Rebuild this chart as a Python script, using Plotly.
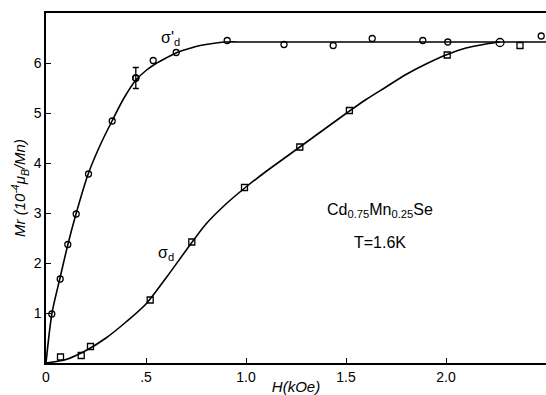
import plotly.graph_objects as go

# sigma'_d data (open circles)
circ_H = [0.029, 0.071, 0.109, 0.151, 0.2125, 0.331, 0.449, 0.536, 0.651, 0.906,
          1.19, 1.436, 1.631, 1.884, 2.009, 2.476]
circ_M = [0.98, 1.68, 2.37, 2.98, 3.78, 4.84, 5.70, 6.05, 6.21, 6.45,
          6.37, 6.35, 6.49, 6.45, 6.42, 6.54]

# the one point carrying an error bar
err_H = [0.449]
err_M = [5.70]
err_size = [0.21]

# shared point where both curves meet
shared_H = [2.27]
shared_M = [6.41]

# sigma_d data (open squares)
sq_H = [0.0725, 0.176, 0.2225, 0.521, 0.729, 0.9925, 1.269, 1.517, 2.006, 2.37]
sq_M = [0.12, 0.15, 0.33, 1.26, 2.42, 3.51, 4.32, 5.05, 6.16, 6.35]

# smooth curves
curve1_H = [0, 0.03, 0.07, 0.11, 0.15, 0.21, 0.27, 0.33, 0.39, 0.45, 0.5, 0.55,
            0.6, 0.65, 0.7, 0.75, 0.8, 0.85, 0.9, 1.0, 1.5, 2.0, 2.5]
curve1_M = [0, 1.0, 1.7, 2.38, 2.98, 3.77, 4.35, 4.84, 5.3, 5.66, 5.85, 5.99,
            6.1, 6.2, 6.27, 6.33, 6.37, 6.4, 6.42, 6.42, 6.42, 6.42, 6.42]

curve2_H = [0, 0.1, 0.2, 0.3, 0.4, 0.5, 0.6, 0.7, 0.8, 0.9, 1.0, 1.1, 1.2, 1.3,
            1.4, 1.5, 1.6, 1.7, 1.8, 1.9, 2.0, 2.1, 2.2, 2.27]
curve2_M = [0, 0.07, 0.25, 0.5, 0.82, 1.18, 1.7, 2.25, 2.78, 3.18, 3.52, 3.83,
            4.12, 4.41, 4.7, 4.99, 5.27, 5.52, 5.77, 5.98, 6.16, 6.3, 6.38, 6.42]

x_ticks = [0, 0.5, 1.0, 1.5, 2.0]
x_ticklabels = ["0", ".5", "1.0", "1.5", "2.0"]
y_ticks = [1, 2, 3, 4, 5, 6]
y_ticklabels = ["1", "2", "3", "4", "5", "6"]

fig = go.Figure()
fig.add_trace(go.Scatter(x=curve1_H, y=curve1_M, mode="lines",
                         line=dict(color="black", width=1.6, shape="spline", smoothing=0.8),
                         showlegend=False, hoverinfo="skip"))
fig.add_trace(go.Scatter(x=curve2_H, y=curve2_M, mode="lines",
                         line=dict(color="black", width=1.6, shape="spline", smoothing=0.8),
                         showlegend=False, hoverinfo="skip"))
fig.add_trace(go.Scatter(x=circ_H, y=circ_M, mode="markers",
                         marker=dict(symbol="circle-open", size=6, color="black",
                                     line=dict(width=1.3)),
                         showlegend=False))
fig.add_trace(go.Scatter(x=err_H, y=err_M, mode="markers",
                         marker=dict(symbol="circle-open", size=6, color="black",
                                     line=dict(width=1.3)),
                         error_y=dict(type="data", array=err_size, visible=True,
                                      color="black", thickness=1.3, width=3),
                         showlegend=False))
fig.add_trace(go.Scatter(x=shared_H, y=shared_M, mode="markers",
                         marker=dict(symbol="circle-open", size=8, color="black",
                                     line=dict(width=1.3)),
                         showlegend=False))
fig.add_trace(go.Scatter(x=sq_H, y=sq_M, mode="markers",
                         marker=dict(symbol="square-open", size=6, color="black",
                                     line=dict(width=1.3)),
                         showlegend=False))

font_main = "Liberation Sans, Arial, sans-serif"

annotations = [
    dict(x=0.62, y=6.5, text="σ'<sub>d</sub>", showarrow=False,
         font=dict(size=16, color="black", family=font_main)),
    dict(x=0.6, y=2.2, text="σ<sub>d</sub>", showarrow=False,
         font=dict(size=16, color="black", family=font_main)),
    dict(x=1.67, y=3.05, text="Cd<sub>0.75</sub>Mn<sub>0.25</sub>Se", showarrow=False,
         font=dict(size=16, color="black", family=font_main)),
    dict(x=1.67, y=2.42, text="T=1.6K", showarrow=False,
         font=dict(size=16, color="black", family=font_main)),
]

fig.update_layout(
    width=546, height=395,
    margin=dict(l=46, r=0, t=13, b=32),
    paper_bgcolor="white", plot_bgcolor="white",
    font=dict(family=font_main, color="black", size=14),
    annotations=annotations,
    xaxis=dict(range=[0, 2.5], tickvals=x_ticks, ticktext=x_ticklabels,
               ticks="inside", ticklen=5, tickwidth=1.2, tickcolor="black",
               showline=True, linecolor="black", linewidth=1.5, mirror=True,
               showgrid=False, zeroline=False,
               title=dict(text="<i>H(kOe)</i>", standoff=0, font=dict(size=15))),
    yaxis=dict(range=[0, 7], tickvals=y_ticks, ticktext=y_ticklabels,
               ticks="inside", ticklen=5, tickwidth=1.2, tickcolor="black",
               showline=True, linecolor="black", linewidth=1.5,
               showgrid=False, zeroline=False,
               title=dict(text="<i>Mr (10<sup>-4</sup>μ<sub>B</sub>/Mn)</i>",
                          standoff=4, font=dict(size=15))),
)

fig.write_html("out.html")
